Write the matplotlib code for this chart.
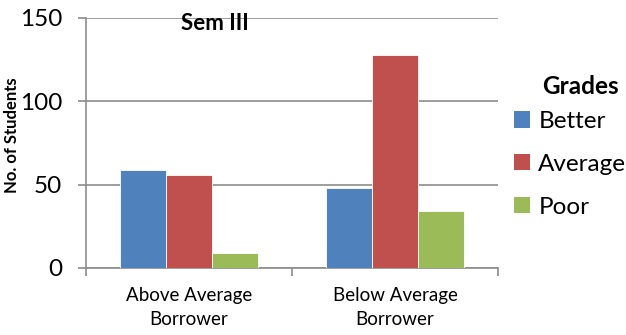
import matplotlib
matplotlib.use("Agg")
import matplotlib.pyplot as plt
import numpy as np
from matplotlib.patches import Patch

categories = ["Above Average\nBorrower", "Below Average\nBorrower"]
series_names = ["Better", "Average", "Poor"]
better = [59, 48]
average = [56, 128]
poor = [9, 34]
colors = ["#4F81BD", "#C0504D", "#9BBB59"]
yticks = [0, 50, 100, 150]

plt.rcParams['font.family'] = ['Lato', 'DejaVu Sans']

fig = plt.figure(figsize=(6.26, 3.35), dpi=100)
ax = fig.add_axes([86/626, 1-268/335, (498-86)/626, 250/335])

x = np.arange(len(categories))
w = 0.667/3
for i, (vals, c) in enumerate(zip([better, average, poor], colors)):
    ax.bar(x + (i-1)*w, vals, width=w, color=c, edgecolor='white', linewidth=0.6, zorder=3)

ax.set_xlim(-0.5, 1.5)
ax.set_ylim(0, 150)
ax.set_yticks(yticks)
ax.set_yticklabels([str(v) for v in yticks], fontsize=17.5)
ax.yaxis.grid(True, color='#8C8C8C', linewidth=1.2, zorder=0)
ax.set_axisbelow(True)
ax.tick_params(axis='y', length=6, width=1.2, color='#8C8C8C', pad=11)

ax.set_xticks(x)
ax.set_xticklabels(categories, fontsize=13.5, linespacing=1.45)
ax.tick_params(axis='x', which='major', length=0, pad=14)
ax.set_xticks([-0.5, 0.5, 1.5], minor=True)
ax.tick_params(axis='x', which='minor', length=6, width=1.2, color='#8C8C8C')

for s in ['top', 'right']:
    ax.spines[s].set_visible(False)
for s in ['left', 'bottom']:
    ax.spines[s].set_color('#8C8C8C')
    ax.spines[s].set_linewidth(1.2)

ax.text((215-86)/412, 1-(23-18)/250, "Sem III", transform=ax.transAxes, ha='center', va='center',
        fontsize=16, fontweight='bold')
fig.text(12/626, 1-135/335, "No. of Students", rotation=90, ha='center', va='center',
         fontsize=12, fontweight='bold')

handles = [Patch(facecolor=c, edgecolor='none') for c in colors]
fig.legend(handles, series_names, loc='upper left', bbox_to_anchor=(514/626, 1-111/335),
           frameon=False, fontsize=17.5, handlelength=0.65, handleheight=0.65,
           handletextpad=0.35, labelspacing=0.9, borderpad=0, borderaxespad=0)
fig.text(542/626, 1-87/335, "Grades", ha='left', va='center', fontsize=17.5, fontweight='bold')

fig.savefig("out.png", dpi=100)
